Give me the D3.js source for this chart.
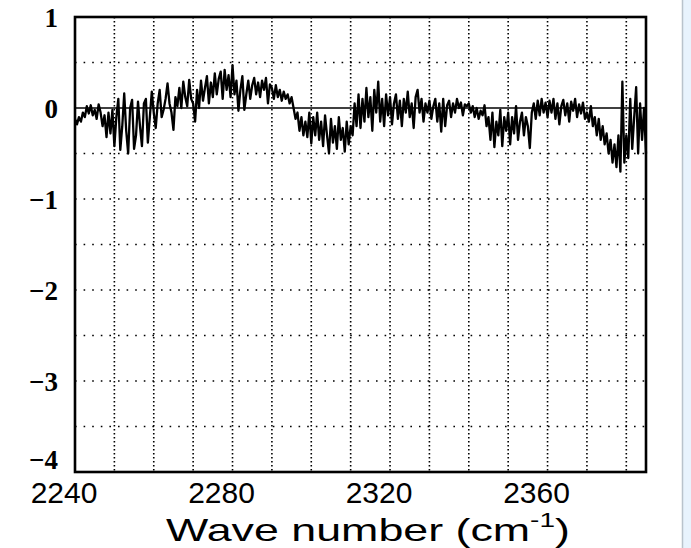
<!DOCTYPE html>
<html>
<head>
<meta charset="utf-8">
<script src="https://cdn.jsdelivr.net/npm/d3@7/dist/d3.min.js"></script>
<style>
  html, body { margin: 0; padding: 0; background: #ffffff; }
  svg { display: block; }
</style>
</head>
<body>
<svg id="chart" width="691" height="548"></svg>
<script>
// Spectrum sampled every 0.5 cm^-1 from 2240 to 2385 cm^-1
const waveStart = 2240;
const waveStep = 0.5;
const signal = [
  // 2240 - 2250
  -0.12, -0.18, -0.10, -0.15, -0.05, -0.10, 0.02, -0.06, 0.03, -0.08,
  -0.02, -0.12, 0.04, -0.05, -0.20, -0.08, -0.32, -0.05, -0.28, -0.02,
  // 2250 - 2260
  -0.42, -0.10, 0.10, -0.46, -0.20, 0.16, -0.25, -0.50, 0.00, 0.09,
  -0.45, -0.30, 0.07, -0.20, -0.42, 0.05, 0.10, -0.38, -0.10, 0.18,
  // 2260 - 2270
  -0.05, -0.22, 0.05, 0.20, -0.10, -0.02, 0.10, 0.27, 0.05, -0.05,
  -0.24, 0.12, 0.02, 0.22, 0.00, 0.29, 0.12, 0.02, 0.31, 0.10,
  // 2270 - 2280
  0.05, -0.15, 0.20, 0.00, 0.30, 0.08, 0.22, 0.35, 0.05, 0.28,
  0.12, 0.38, 0.15, 0.32, 0.40, 0.10, 0.42, 0.20, 0.36, 0.12,
  // 2280 - 2290
  0.47, 0.15, 0.30, -0.03, 0.20, 0.35, -0.02, 0.15, 0.30, 0.10,
  0.25, 0.33, 0.15, 0.28, 0.12, 0.30, 0.20, 0.33, 0.05, 0.26,
  // 2290 - 2300
  0.22, 0.10, 0.25, 0.12, 0.20, 0.08, 0.18, 0.10, 0.15, 0.05,
  0.12, 0.00, -0.12, -0.05, -0.25, -0.10, -0.30, -0.15, -0.32, -0.05,
  // 2300 - 2310
  -0.39, -0.10, -0.30, -0.05, -0.35, -0.15, -0.42, -0.08, -0.30, -0.50,
  -0.12, -0.38, -0.20, -0.45, -0.10, -0.35, -0.22, -0.48, -0.15, -0.40,
  // 2310 - 2320
  -0.20, -0.30, 0.05, -0.20, 0.15, -0.22, 0.10, -0.15, 0.22, -0.10,
  0.12, -0.25, 0.20, -0.05, 0.29, -0.15, 0.10, -0.20, 0.15, -0.08,
  // 2320 - 2330
  0.12, -0.18, 0.05, 0.15, -0.12, 0.08, -0.20, 0.10, -0.05, 0.18,
  -0.10, 0.05, -0.22, 0.12, 0.20, -0.05, 0.10, -0.15, 0.05, -0.05,
  // 2330 - 2340
  0.08, -0.12, 0.02, 0.10, -0.15, 0.05, -0.26, 0.10, -0.20, 0.03,
  0.08, -0.10, 0.05, -0.05, 0.10, 0.00, 0.06, -0.08, 0.04, 0.02,
  // 2340 - 2350
  0.05, -0.05, 0.02, -0.10, 0.00, -0.12, -0.03, -0.08, 0.03, -0.20,
  -0.10, -0.35, -0.05, -0.43, -0.15, -0.30, -0.02, -0.42, -0.10, -0.25,
  // 2350 - 2360
  -0.05, -0.40, -0.10, -0.28, 0.02, -0.35, -0.15, -0.05, -0.30, -0.10,
  -0.20, -0.44, -0.05, 0.05, -0.12, 0.08, -0.08, 0.10, -0.05, 0.06,
  // 2360 - 2370
  -0.10, 0.08, -0.05, 0.10, -0.12, 0.05, -0.18, 0.02, 0.09, -0.08,
  0.05, -0.15, 0.07, -0.03, 0.10, -0.10, 0.04, -0.06, 0.06, -0.12,
  // 2370 - 2380
  -0.05, -0.15, 0.02, -0.20, -0.10, -0.30, -0.12, -0.35, -0.20, -0.40,
  -0.28, -0.50, -0.35, -0.60, -0.40, -0.65, -0.30, -0.70, 0.29, -0.60,
  // 2380 - 2385
  -0.30, -0.55, 0.10, -0.45, -0.10, 0.23, -0.50, 0.05, -0.35, 0.00, -0.50
];
const wavenumbers = signal.map((_, i) => waveStart + i * waveStep);

const xDomain = [2240, 2385];
const yDomain = [-4, 1];
const xTickValues = [2240, 2280, 2320, 2360];
const xTickLabels = ["2240", "2280", "2320", "2360"];
const yTickValues = [1, 0, -1, -2, -3, -4];
const yTickLabels = ["1", "0", "\u22121", "\u22122", "\u22123", "\u22124"];
const xGridValues = d3.range(2250, 2385, 10);
const yGridValues = [0.5, -0.5, -1, -1.5, -2, -2.5, -3, -3.5];

const svg = d3.select("#chart");
const W = 691, H = 548;
const plot = { left: 75, right: 646, top: 17, bottom: 472 };

svg.append("rect").attr("width", W).attr("height", H).attr("fill", "#ffffff");

// side panel strip at the right edge
svg.append("rect")
  .attr("x", 682).attr("y", 0).attr("width", W - 682).attr("height", H)
  .attr("fill", "#e8f3fd");
svg.append("line")
  .attr("x1", 682.5).attr("x2", 682.5).attr("y1", 0).attr("y2", H)
  .attr("stroke", "#b9c3cc").attr("stroke-width", 1.5);

const x = d3.scaleLinear().domain(xDomain).range([plot.left, plot.right]);
const y = d3.scaleLinear().domain(yDomain).range([plot.bottom, plot.top]);

// dotted grid
const grid = svg.append("g");
grid.selectAll("line.gx").data(xGridValues).join("line")
  .attr("class", "gx")
  .attr("x1", d => x(d)).attr("x2", d => x(d))
  .attr("y1", plot.top).attr("y2", plot.bottom)
  .attr("stroke", "#000").attr("stroke-width", 1.6)
  .attr("stroke-dasharray", "1.6,2.4");
grid.selectAll("line.gy").data(yGridValues).join("line")
  .attr("class", "gy")
  .attr("x1", plot.left).attr("x2", plot.right)
  .attr("y1", d => y(d)).attr("y2", d => y(d))
  .attr("stroke", "#000").attr("stroke-width", 1.6)
  .attr("stroke-dasharray", "1.6,7");

// zero reference line
svg.append("line")
  .attr("x1", plot.left).attr("x2", plot.right)
  .attr("y1", y(0)).attr("y2", y(0))
  .attr("stroke", "#000").attr("stroke-width", 1.6);

// spectrum trace
const line = d3.line().x((d, i) => x(wavenumbers[i])).y(d => y(d));
svg.append("path")
  .datum(signal)
  .attr("d", line)
  .attr("fill", "none")
  .attr("stroke", "#000")
  .attr("stroke-width", 2.3)
  .attr("stroke-linejoin", "round");

// frame
svg.append("rect")
  .attr("x", plot.left).attr("y", plot.top)
  .attr("width", plot.right - plot.left).attr("height", plot.bottom - plot.top)
  .attr("fill", "none").attr("stroke", "#000").attr("stroke-width", 2.6);

// y tick labels (the bottom one sits a little higher, clear of the x labels)
svg.append("g").selectAll("text").data(yTickValues).join("text")
  .attr("x", 58)
  .attr("y", d => d === -4 ? y(d) - 3 : y(d) + 10)
  .attr("text-anchor", "end")
  .attr("font-family", "'Liberation Serif', 'DejaVu Serif', serif")
  .attr("font-weight", "bold")
  .attr("font-size", 27)
  .attr("fill", "#000")
  .text((d, i) => yTickLabels[i]);

// x tick labels
svg.append("g").selectAll("text").data(xTickValues).join("text")
  .attr("x", d => x(d) - 11)
  .attr("y", 503)
  .attr("text-anchor", "middle")
  .attr("font-family", "'Liberation Sans', Arial, sans-serif")
  .attr("font-size", 30)
  .attr("fill", "#000")
  .text((d, i) => xTickLabels[i]);

// axis title
const title = svg.append("text")
  .attr("transform", "translate(368,541) scale(1.4,1)")
  .attr("text-anchor", "middle")
  .attr("font-family", "'Liberation Sans', Arial, sans-serif")
  .attr("font-size", 32)
  .attr("fill", "#000");
title.append("tspan").text("Wave number (cm");
title.append("tspan").attr("font-size", 20).attr("dy", -14).text("-1");
title.append("tspan").attr("dy", 14).text(")");
</script>
</body>
</html>
